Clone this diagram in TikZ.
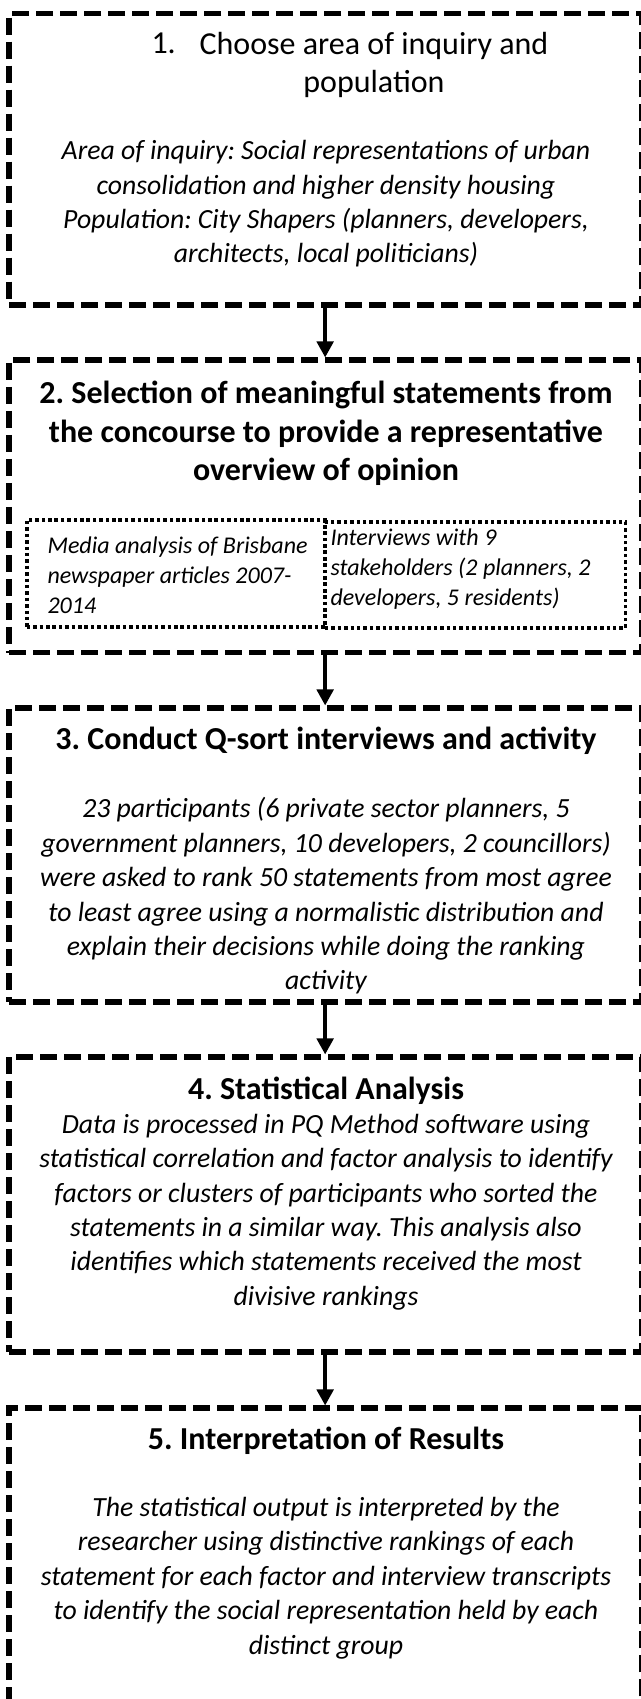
\documentclass[tikz,border=0pt]{standalone}
\usepackage{fontspec}
\setmainfont{Carlito}
\usetikzlibrary{arrows.meta}

\tikzset{every picture/.style={line width=0.75pt}}
\tikzset{
  stagebox/.style={draw, dash pattern=on 12.75pt off 5.25pt, line width=3.9pt, minimum width=474.2pt, inner sep=0pt},
  sourcebox/.style={draw, dash pattern=on 2.6pt off 2.2pt, line width=2.9pt, inner sep=0pt},
  flowarrow/.style={-{Triangle[length=12pt,width=12.5pt]}, line width=2.5pt},
  stagehead/.style={font=\bfseries\fontsize{24}{28.9}\selectfont, align=center},
  stagenote/.style={font=\itshape\fontsize{20.8}{25.8}\selectfont, align=center},
  sourcenote/.style={font=\itshape\fontsize{18}{22.5}\selectfont, align=left, anchor=west, inner sep=0pt}
}

\begin{document}
\frenchspacing
\begin{tikzpicture}[x=0.75pt,y=0.75pt,yscale=-1,xscale=1]
%set diagram to the size of the figure
\clip (0,0) rectangle (641,1699);

%Shape: Rectangle [stage 1]
\node[stagebox, minimum height=218.6pt] (box1) at (325.15,159.25) {};
%Shape: Rectangle [stage 2]
\node[stagebox, minimum height=219.4pt] (box2) at (325.15,506.25) {};
%Shape: Rectangle [stage 3]
\node[stagebox, minimum height=220.5pt] (box3) at (325.15,855) {};
%Shape: Rectangle [stage 4]
\node[stagebox, minimum height=221.3pt] (box4) at (325.15,1204.5) {};
%Shape: Rectangle [stage 5, runs off the page]
\node[stagebox, minimum height=264pt] (box5) at (325.15,1584) {};

%Shape: Rectangle [media source]
\node[sourcebox, minimum width=223.5pt, minimum height=80.3pt] (media) at (175.85,573.5) {};
%Shape: Rectangle [interview source]
\node[sourcebox, minimum width=225.4pt, minimum height=79.5pt] (talks) at (475.25,574.85) {};

%Straight Lines
\draw[flowarrow] (box1) -- (box2);
\draw[flowarrow] (box2) -- (box3);
\draw[flowarrow] (box3) -- (box4);
\draw[flowarrow] (box4) -- (box5);

% Text Node
\node[font=\fontsize{24}{29}\selectfont, anchor=base west, inner sep=0pt] (num1) at (151,53.5) {1.};
% Text Node
\node[font=\fontsize{24}{29}\selectfont, align=center] (head1) at (374,65) {Choose area of inquiry and\\population};
% Text Node
\node[stagenote] (note1) at (326,204) {Area of inquiry: Social representations of urban\\consolidation and higher density housing\\Population: City Shapers (planners, developers,\\architects, local politicians)};

% Text Node
\node[stagehead] (head2) at (326,433.5) {2. Selection of meaningful statements from\\the concourse to provide a representative\\overview of opinion};
% Text Node
\node[sourcenote] (note2a) at (47,575) {Media analysis of Brisbane\\newspaper articles 2007-\\2014};
% Text Node
\node[sourcenote] (note2b) at (330,569) {Interviews with 9\\stakeholders (2 planners, 2\\developers, 5 residents)};

% Text Node
\node[stagehead] (head3) at (326,741) {3. Conduct Q-sort interviews and activity};
% Text Node
\node[stagenote] (note3) at (326,896) {23 participants (6 private sector planners, 5\\government planners, 10 developers, 2 councillors)\\were asked to rank 50 statements from most agree\\to least agree using a normalistic distribution and\\explain their decisions while doing the ranking\\activity};

% Text Node
\node[stagehead] (head4) at (326,1091) {4. Statistical Analysis};
% Text Node
\node[stagenote] (note4) at (326,1212) {Data is processed in PQ Method software using\\statistical correlation and factor analysis to identify\\factors or clusters of participants who sorted the\\statements in a similar way. This analysis also\\identifies which statements received the most\\divisive rankings};

% Text Node
\node[stagehead] (head5) at (326,1441) {5. Interpretation of Results};
% Text Node
\node[stagenote] (note5) at (326,1578) {The statistical output is interpreted by the\\researcher using distinctive rankings of each\\statement for each factor and interview transcripts\\to identify the social representation held by each\\distinct group};

\end{tikzpicture}
\end{document}
